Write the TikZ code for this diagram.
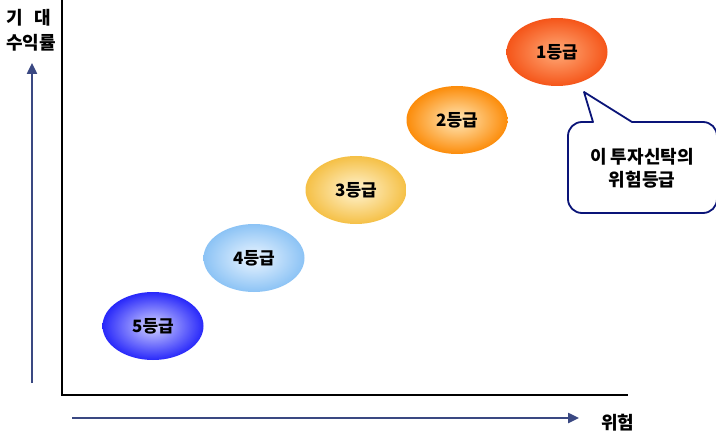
\documentclass[tikz,border=0pt]{standalone}
\usepackage{fontspec}
\setmainfont{Noto Sans CJK KR}
\usetikzlibrary{arrows.meta,shapes.geometric}
\definecolor{axisblue}{RGB}{58,72,130}
\definecolor{navyline}{RGB}{10,20,120}
\definecolor{gAo}{RGB}{245,85,25}\definecolor{gAi}{RGB}{255,170,120}
\definecolor{gBo}{RGB}{252,140,10}\definecolor{gBi}{RGB}{255,232,185}
\definecolor{gCo}{RGB}{245,192,70}\definecolor{gCi}{RGB}{255,244,210}
\definecolor{gDo}{RGB}{140,195,245}\definecolor{gDi}{RGB}{235,245,255}
\definecolor{gEo}{RGB}{40,40,250}\definecolor{gEi}{RGB}{210,210,255}
\begin{document}
\begin{tikzpicture}[x=1pt,y=-1pt,
  grade/.style={ellipse,minimum width=101pt,minimum height=68pt,inner sep=0pt,
    font=\fontsize{17}{19}\selectfont\bfseries,text=black},
  axisarrow/.style={draw=axisblue,line width=2.4pt,-{Triangle[length=11pt,width=10pt]}},
  axisline/.style={draw=black,line width=1.3pt},
  lbl/.style={font=\fontsize{18}{20}\selectfont\bfseries,inner sep=0pt},
  callout/.style={draw=navyline,line width=1.8pt,fill=white,line join=round}]
\useasboundingbox (0,0) rectangle (716,436);
% axes
\coordinate (ytop) at (62,0);
\coordinate (orig) at (62,395);
\coordinate (xend) at (628,395);
\draw[axisline] (ytop) -- (orig) -- (xend);
% blue arrows
\coordinate (va) at (32,383);
\coordinate (vb) at (32,63);
\coordinate (ha) at (72,418);
\coordinate (hb) at (579,418);
\draw[axisarrow] (va) -- (vb);
\draw[axisarrow] (ha) -- (hb);
% axis labels
\node[lbl,anchor=west] (yl1) at (6,18) {기\hspace{0.65em}대};
\node[lbl,anchor=west] (yl2) at (6,43) {수익률};
\node[lbl,anchor=west] (xl) at (601,423) {위험};
% grades
\node[grade,inner color=gEi,outer color=gEo] (g5) at (153,326) {5등급};
\node[grade,inner color=gDi,outer color=gDo] (g4) at (254,258) {4등급};
\node[grade,inner color=gCi,outer color=gCo] (g3) at (356,190) {3등급};
\node[grade,inner color=gBi,outer color=gBo] (g2) at (457,120) {2등급};
\node[grade,inner color=gAi,outer color=gAo] (g1) at (557,52) {1등급};
% callout
\coordinate (tip) at (584,92);
\draw[callout] (tip) -- (632,122) -- (703,122)
  arc[start angle=270,end angle=360,radius=14] -- (717,199)
  arc[start angle=0,end angle=90,radius=14] -- (582,213)
  arc[start angle=90,end angle=180,radius=14] -- (568,136)
  arc[start angle=180,end angle=270,radius=14] -- (593,122) -- cycle;
\node[align=center,font=\fontsize{18}{23}\selectfont\bfseries,inner sep=0pt] (ct) at (642,168) {이 투자신탁의\\위험등급};
\end{tikzpicture}
\end{document}
